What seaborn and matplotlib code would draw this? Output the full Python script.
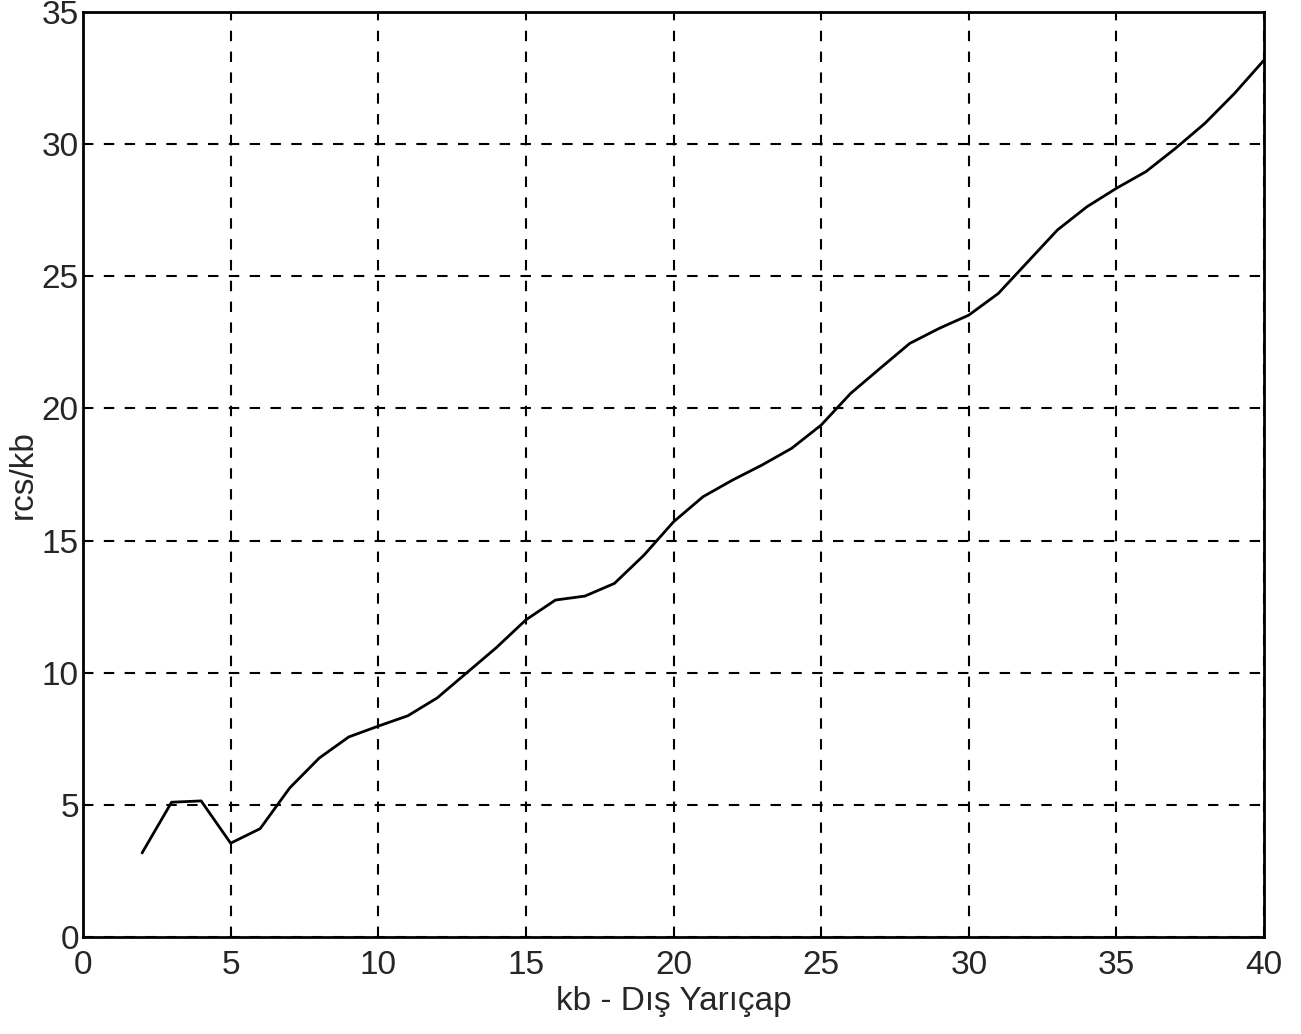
import numpy as np
import pandas as pd
import seaborn as sns
import matplotlib
matplotlib.use('Agg')
import matplotlib.pyplot as plt

kb = list(range(2, 41))
rcs_kb = [3.18, 5.1, 5.15, 3.55, 4.1, 5.64, 6.77, 7.57, 7.98, 8.37,
          9.05, 10.0, 10.95, 12.0, 12.75, 12.9, 13.38, 14.45, 15.71, 16.66,
          17.29, 17.86, 18.49, 19.37, 20.57, 21.52, 22.46, 23.03, 23.53, 24.35,
          25.55, 26.75, 27.63, 28.33, 28.96, 29.84, 30.79, 31.92, 33.18]

xticks = np.arange(0, 41, 5)
yticks = np.arange(0, 36, 5)

df = pd.DataFrame({'kb': kb, 'rcs': rcs_kb})

sns.set_style('white')
plt.rcParams['font.family'] = ['Liberation Sans', 'DejaVu Sans']

fig = plt.figure(figsize=(13.01, 10.34), dpi=100)
ax = fig.add_axes([0.0638, 0.0938, 0.9078, 0.8946])

sns.lineplot(data=df, x='kb', y='rcs', color='black', linewidth=2, ax=ax)

ax.set_xlim(0, 40)
ax.set_ylim(0, 35)
ax.set_xticks(xticks)
ax.set_yticks(yticks)
ax.grid(True, color='black', linestyle=(0, (5, 5)), linewidth=1.5)
ax.tick_params(direction='in', labelsize=24, length=6, width=1.5)
ax.tick_params(axis='x', pad=9)
ax.tick_params(axis='y', pad=3)
for s in ax.spines.values():
    s.set_color('black')
    s.set_linewidth(2)

ax.set_xlabel('kb - Dış Yarıçap', fontsize=24, labelpad=4)
ax.set_ylabel('rcs/kb', fontsize=24, labelpad=2)

fig.savefig('out.png', dpi=100)
